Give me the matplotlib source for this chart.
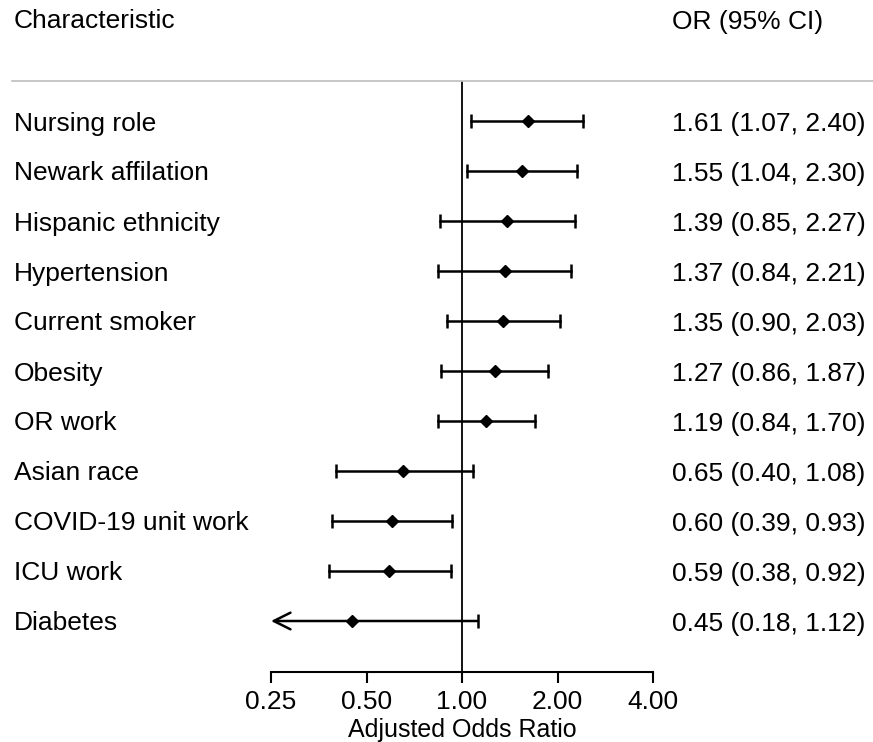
import matplotlib
matplotlib.use('Agg')
import matplotlib.pyplot as plt
import matplotlib.transforms as mtransforms
from matplotlib.ticker import FixedLocator, NullLocator, FuncFormatter

labels = ['Nursing role', 'Newark affilation', 'Hispanic ethnicity', 'Hypertension',
          'Current smoker', 'Obesity', 'OR work', 'Asian race',
          'COVID-19 unit work', 'ICU work', 'Diabetes']
odds = [1.61, 1.55, 1.39, 1.37, 1.35, 1.27, 1.19, 0.65, 0.60, 0.59, 0.45]
lower = [1.07, 1.04, 0.85, 0.84, 0.90, 0.86, 0.84, 0.40, 0.39, 0.38, 0.18]
upper = [2.40, 2.30, 2.27, 2.21, 2.03, 1.87, 1.70, 1.08, 0.93, 0.92, 1.12]
ticks = [0.25, 0.5, 1.0, 2.0, 4.0]

plt.rcParams['font.family'] = ['Liberation Sans', 'DejaVu Sans']

W, H = 873, 742
fig = plt.figure(figsize=(W / 100, H / 100), dpi=100)
fs = 19

# axes placed in pixel terms: x from 271 to 653, y from 81 to 672
ax = fig.add_axes([271 / W, 1 - 672 / H, (653 - 271) / W, (672 - 81) / H])
ax.set_xscale('log', base=2)
xmin, xmax = 0.25, 4.0
ax.set_xlim(xmin, xmax)
ax.set_ylim(11.02, -0.8)

for s in ['top', 'left', 'right']:
    ax.spines[s].set_visible(False)
ax.spines['bottom'].set_linewidth(1.5)
ax.xaxis.set_major_locator(FixedLocator(ticks))
ax.xaxis.set_minor_locator(NullLocator())
ax.xaxis.set_major_formatter(FuncFormatter(lambda v, p: f'{v:.2f}'))
ax.tick_params(axis='x', length=8, width=1.5, labelsize=fs, pad=5)
ax.set_yticks([])
ax.set_xlabel('Adjusted Odds Ratio', fontsize=18, labelpad=3)

ax.axvline(1.0, color='black', lw=1.3, zorder=1)

for i, (o, lo, hi) in enumerate(zip(odds, lower, upper)):
    if lo < xmin:
        ax.annotate('', xy=(xmin, i), xytext=(hi, i),
                    arrowprops=dict(arrowstyle='->', lw=1.8, color='black',
                                    mutation_scale=30, shrinkA=0, shrinkB=0))
        ax.plot([hi], [i], marker='|', ms=10.5, mew=1.8, color='black')
    else:
        ax.plot([lo, hi], [i, i], color='black', lw=1.8, marker='|', ms=10.5, mew=1.8)
    ax.plot([o], [i], marker='D', ms=6.5, color='black', zorder=3)

trans = mtransforms.blended_transform_factory(fig.transFigure, ax.transData)
for i, (name, o, lo, hi) in enumerate(zip(labels, odds, lower, upper)):
    ax.text(14 / W, i, name, transform=trans, ha='left', va='center_baseline', fontsize=fs)
    ax.text(672 / W, i, f'{o:.2f} ({lo:.2f}, {hi:.2f})', transform=trans,
            ha='left', va='center_baseline', fontsize=fs)

fig.text(14 / W, 1 - 19 / H, 'Characteristic', ha='left', va='center_baseline', fontsize=fs)
fig.text(672 / W, 1 - 19 / H, 'OR (95% CI)', ha='left', va='center_baseline', fontsize=fs)
fig.add_artist(plt.Line2D([12 / W, 1.0], [1 - 81 / H, 1 - 81 / H],
                          color='#bdbdbd', lw=1.2, transform=fig.transFigure))

fig.savefig('out.png', dpi=100)
